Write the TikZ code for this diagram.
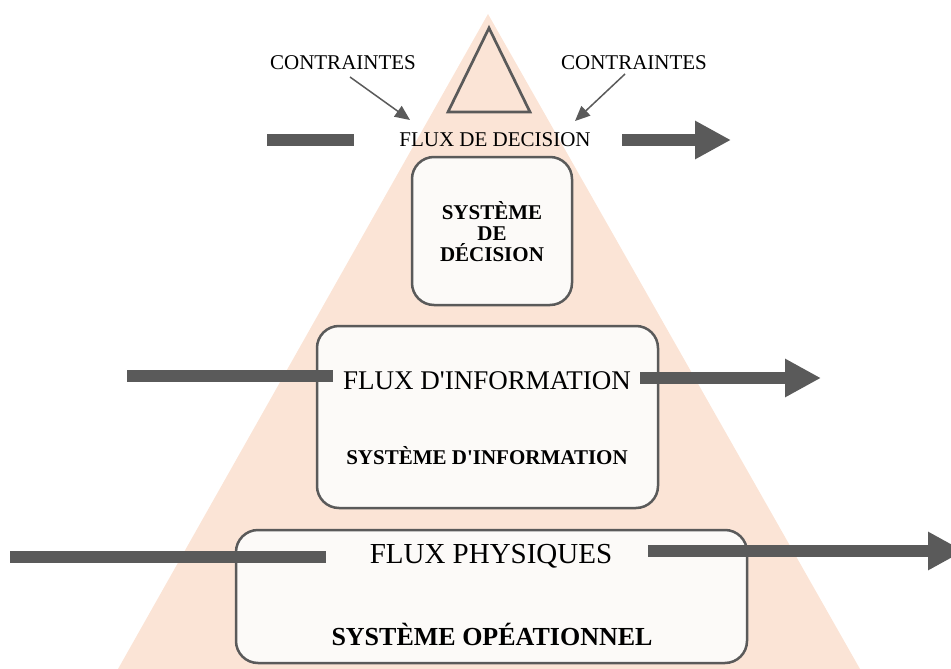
\documentclass[tikz,border=0pt]{standalone}
\usepackage{fontspec}
\setmainfont{Liberation Serif}
\usetikzlibrary{arrows.meta}
\definecolor{peach}{HTML}{FBE4D6}
\definecolor{boxfill}{HTML}{FCFAF8}
\definecolor{ink}{HTML}{5A5A5A}
\tikzset{
  sysbox/.style={draw=ink, line width=2.5pt, fill=boxfill, rounded corners=22pt, inner sep=0pt},
  label/.style={inner sep=0pt, text=black},
  flowbar/.style={draw=ink, line width=12pt, line cap=butt},
  flowarrow/.style={flowbar, -{Triangle[length=36pt,width=36pt]}},
  constraint/.style={draw=ink, line width=1.5pt, -{Triangle[length=15pt,width=13pt]}},
}
\begin{document}
\begin{tikzpicture}[x=1pt,y=-1pt]
\useasboundingbox (0,0) rectangle (951,669);
\clip (0,0) rectangle (951,669);

% pyramid background
\fill[peach] (488,14) -- (860,669) -- (118,669) -- cycle;
% apex triangle
\draw[ink, line width=2.7pt, line join=miter] (489,28) -- (530,112) -- (448,112) -- cycle;

% systems
\node[sysbox, minimum width=160pt, minimum height=148pt] (dec) at (492,231) {};
\node[sysbox, minimum width=341pt, minimum height=182pt] (info) at (487.5,417) {};
\node[sysbox, minimum width=511pt, minimum height=133pt] (ops) at (491.5,596.5) {};

% texts
\node[label, font=\fontsize{21}{21}\selectfont] (c1) at (343,63) {CONTRAINTES};
\node[label, font=\fontsize{21}{21}\selectfont] (c2) at (634,63) {CONTRAINTES};
\node[label, font=\fontsize{21}{21}\selectfont] (fd) at (495,140) {FLUX DE DECISION};
\node[label, align=center, font=\fontsize{21}{21}\selectfont\bfseries] (sd) at (492,232) {SYSTÈME\\DE\\DÉCISION};
\node[label, font=\fontsize{27}{27}\selectfont] (fi) at (487,381) {FLUX D\textquotesingle INFORMATION};
\node[label, font=\fontsize{21}{21}\selectfont\bfseries] (si) at (487,456) {SYSTÈME D\textquotesingle INFORMATION};
\node[label, font=\fontsize{29}{29}\selectfont] (fp) at (491,556) {FLUX PHYSIQUES};
\node[label, font=\fontsize{26}{26}\selectfont\bfseries] (so) at (492,634) {SYSTÈME OPÉATIONNEL};

% constraint arrows
\coordinate (c1s) at (350,77);
\coordinate (c1e) at (410,120);
\coordinate (c2s) at (625,74);
\coordinate (c2e) at (575,121);
\draw[constraint] (c1s) -- (c1e);
\draw[constraint] (c2s) -- (c2e);

% decision flow
\coordinate (din1) at (267,140);
\coordinate (din2) at (354,140);
\coordinate (dout1) at (622,140);
\coordinate (dout2) at (731,140);
\draw[flowbar] (din1) -- (din2);
\draw[flowarrow] (dout1) -- (dout2);

% information flow
\coordinate (iin1) at (127,375.5);
\coordinate (iin2) at (333,375.5);
\coordinate (iout1) at (640,378);
\coordinate (iout2) at (821,378);
\draw[flowbar] (iin1) -- (iin2);
\draw[flowarrow] (iout1) -- (iout2);

% physical flow
\coordinate (pin1) at (10,557);
\coordinate (pin2) at (326,557);
\coordinate (pout1) at (648,551);
\coordinate (pout2) at (964,551);
\draw[flowbar] (pin1) -- (pin2);
\draw[flowarrow] (pout1) -- (pout2);
\end{tikzpicture}
\end{document}
